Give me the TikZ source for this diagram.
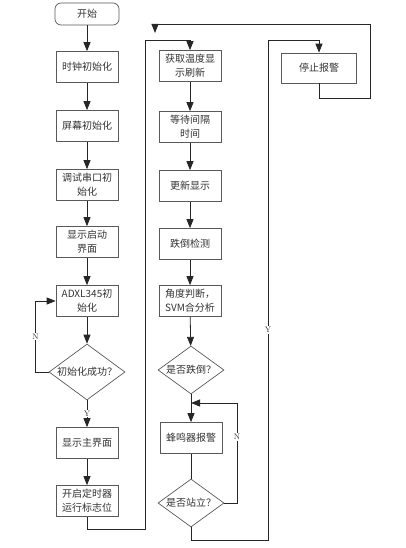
\documentclass[tikz,border=0pt]{standalone}
\usepackage{fontspec}
\newfontfamily\cjk{Noto Sans CJK SC}
\usetikzlibrary{shapes.geometric,arrows.meta}
\begin{document}
\begin{tikzpicture}
	  [
	    x                       = 1pt,
	    y                       = -1pt,
	    every node/.style       = {font=\cjk\fontsize{10}{14}\selectfont, text=black!80},
	    box/.style              = {
			draw=black!65, line width=0.7pt,
			minimum width=62pt, minimum height=31pt,
			align=center, inner sep=2pt
		},
	    startstop/.style        = {
			box, rounded corners=6pt,
			minimum width=64pt, minimum height=22pt
		},
	    decision/.style         = {
			draw=black!65, line width=0.7pt,
			diamond, aspect=1.6, inner sep=0pt,
			minimum width=66pt, minimum height=48pt
		},
	    flow/.style             = {draw=black!85, line width=0.8pt},
	    arrow/.style            = {flow, -{Triangle[length=9pt,width=7pt]}},
	    tag/.style              = {font=\footnotesize, text=black!80, fill=white, inner sep=1pt}
		]
		\useasboundingbox (0,0) rectangle (406,548);

		% left column
		\node[startstop] (start)  at (87,14)  {开始};
		\node[box]       (clk)    at (87,67)  {时钟初始化};
		\node[box]       (screen) at (87,126) {屏幕初始化};
		\node[box]       (uart)   at (87,185) {调试串口初\\始化};
		\node[box]       (boot)   at (87,242) {显示启动\\界面};
		\node[box]       (adxl)   at (87,301) {ADXL345初\\始化};
		\node[decision, minimum width=76pt, minimum height=56pt]
		                 (initok) at (87,372) {初始化成功？};
		\node[box]       (mainui) at (87,443) {显示主界面};
		\node[box]       (timer)  at (87,501) {开启定时器\\运行标志位};

		% middle column
		\node[box]       (gettemp) at (190,66)  {获取温度显\\示刷新};
		\node[box]       (wait)    at (190,127) {等待间隔\\时间};
		\node[box]       (update)  at (190,186) {更新显示};
		\node[box]       (fall)    at (190,244) {跌倒检测};
		\node[box]       (angle)   at (190,301) {角度判断，\\SVM合分析};
		\node[decision]  (isfall)  at (191,370) {是否跌倒？};
		\node[box]       (buzzer)  at (191,438) {蜂鸣器报警};
		\node[decision]  (stand)   at (191,503) {是否站立？};

		% right column
		\node[box, minimum width=75pt, minimum height=30pt]
		                 (stopalarm) at (319,68) {停止报警};

		\coordinate (back) at (155,33);

		\draw[arrow] (start)  -- (clk);
		\draw[arrow] (clk)    -- (screen);
		\draw[arrow] (screen) -- (uart);
		\draw[arrow] (uart)   -- (boot);
		\draw[arrow] (boot)   -- (adxl);
		\draw[arrow] (adxl)   -- (initok);
		\draw[arrow] (initok.west) -- ++(-13,0) |- node[tag, pos=0.25] {N} (adxl.west);
		\draw[arrow] (initok) -- node[tag] {Y} (mainui);
		\draw[arrow] (mainui) -- (timer);
		\draw[arrow] (timer.south) -- ++(0,13) -| (145,40) -| (gettemp.north);

		\draw[arrow] (gettemp) -- (wait);
		\draw[arrow] (wait)    -- (update);
		\draw[arrow] (update)  -- (fall);
		\draw[arrow] (fall)    -- (angle);
		\draw[arrow] (angle)   -- (isfall);
		\draw[arrow] (isfall)  -- (buzzer);
		\draw[flow]  (buzzer)  -- (stand);
		\draw[arrow] (stand.east) -| node[tag, pos=0.83] {N} (237,403) -- (buzzer.north |- 0,403);
		\draw[arrow] (stand.south) -- ++(0,13) -| node[tag, pos=0.71] {Y} (268,40) -| (stopalarm.north);
		\draw[arrow] (stopalarm.south) -- ++(0,15) -| (370,24) -| (back);
	\end{tikzpicture}
\end{document}
